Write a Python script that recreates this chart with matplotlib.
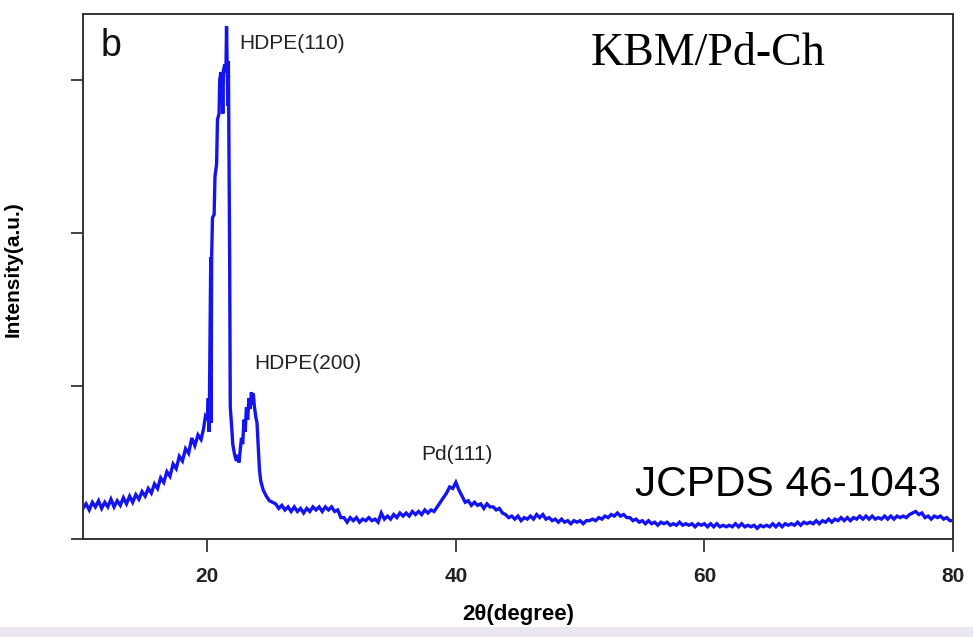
import numpy as np
import matplotlib
matplotlib.use("Agg")
import matplotlib.pyplot as plt
from matplotlib.patches import Rectangle

# XRD scan, low-angle part incl. the HDPE reflections (irregular steps)
tt_peak = [10.0, 10.25, 10.5, 10.75, 11.0, 11.25, 11.5, 11.75, 12.0, 12.25,
           12.5, 12.75, 13.0, 13.25, 13.5, 13.75, 14.0, 14.25, 14.5, 14.75,
           15.0, 15.25, 15.5, 15.75, 16.0, 16.25, 16.5, 16.75, 17.0, 17.25,
           17.5, 17.75, 18.0, 18.25, 18.5, 18.75, 19.0, 19.25, 19.5, 19.7,
           19.85, 20.0, 20.08, 20.15, 20.22, 20.28, 20.31, 20.35, 20.42, 20.55,
           20.62, 20.75, 20.82, 20.95, 21.0, 21.1, 21.2, 21.25, 21.3, 21.4,
           21.5, 21.55, 21.6, 21.65, 21.7, 21.8, 21.85, 21.95, 22.05, 22.2,
           22.35, 22.45, 22.55, 22.65, 22.75, 22.85, 22.95, 23.05, 23.15, 23.25,
           23.35, 23.45, 23.55, 23.65, 23.7, 23.8, 23.9, 24.0, 24.1, 24.2,
           24.3, 24.5, 24.75, 25.0, 25.25]
int_peak = [0.20, 0.23, 0.19, 0.24, 0.21, 0.25, 0.20, 0.24, 0.21, 0.26,
            0.21, 0.25, 0.22, 0.27, 0.23, 0.28, 0.24, 0.29, 0.26, 0.31,
            0.28, 0.33, 0.30, 0.36, 0.33, 0.40, 0.37, 0.44, 0.41, 0.49,
            0.46, 0.54, 0.51, 0.59, 0.56, 0.66, 0.61, 0.68, 0.65, 0.72,
            0.80, 0.78, 0.92, 0.70, 1.30, 1.84, 0.76, 1.84, 2.10, 2.12,
            2.37, 2.45, 2.74, 2.78, 3.00, 3.05, 3.02, 2.78, 3.06, 3.10,
            3.05, 3.35, 3.10, 2.83, 3.12, 1.84, 0.86, 0.75, 0.62, 0.55,
            0.51, 0.55, 0.50, 0.58, 0.66, 0.62, 0.78, 0.70, 0.86, 0.78,
            0.92, 0.85, 0.96, 0.88, 0.95, 0.86, 0.80, 0.76, 0.60, 0.45,
            0.38, 0.32, 0.28, 0.25, 0.24]

# rest of the scan, 0.25 deg step from 25.5 to 80
tt_tail = np.arange(25.5, 80.001, 0.25)
int_tail = [0.23, 0.20,
            0.22, 0.19, 0.21, 0.18,  0.21, 0.18, 0.20, 0.17,
            0.20, 0.18, 0.21, 0.19,  0.21, 0.18, 0.21, 0.19,
            0.21, 0.18, 0.19, 0.14,  0.14, 0.11, 0.14, 0.12,
            0.14, 0.11, 0.13, 0.12,  0.14, 0.12, 0.13, 0.11,
            0.17, 0.13, 0.15, 0.13,  0.16, 0.14, 0.17, 0.15,
            0.17, 0.15, 0.18, 0.16,  0.18, 0.16, 0.19, 0.17,
            0.19, 0.18, 0.21, 0.24,  0.27, 0.30, 0.34, 0.33,
            0.37, 0.32, 0.28, 0.24,  0.25, 0.22, 0.24, 0.22,
            0.23, 0.20, 0.23, 0.21,  0.21, 0.19, 0.20, 0.17,
            0.16, 0.14, 0.15, 0.13,  0.15, 0.12, 0.14, 0.13,
            0.15, 0.13, 0.16, 0.14,  0.16, 0.13, 0.14, 0.12,
            0.13, 0.11, 0.13, 0.11,  0.12, 0.10, 0.12, 0.11,
            0.12, 0.10, 0.12, 0.12,  0.13, 0.12, 0.14, 0.13,
            0.15, 0.14, 0.16, 0.15,  0.17, 0.15, 0.16, 0.14,
            0.14, 0.12, 0.13, 0.11,  0.12, 0.10, 0.12, 0.10,
            0.11, 0.09, 0.11, 0.10,  0.11, 0.09, 0.10, 0.09,
            0.11, 0.09, 0.10, 0.09,  0.10, 0.08, 0.10, 0.09,
            0.10, 0.08, 0.10, 0.08,  0.10, 0.08, 0.09, 0.08,
            0.09, 0.08, 0.10, 0.08,  0.10, 0.08, 0.09, 0.08,
            0.09, 0.07, 0.09, 0.08,  0.09, 0.08, 0.10, 0.08,
            0.10, 0.08, 0.10, 0.09,  0.10, 0.09, 0.11, 0.09,
            0.11, 0.10, 0.11, 0.10,  0.12, 0.10, 0.12, 0.11,
            0.13, 0.11, 0.13, 0.12,  0.14, 0.12, 0.14, 0.12,
            0.14, 0.13, 0.15, 0.13,  0.15, 0.13, 0.15, 0.13,
            0.14, 0.13, 0.15, 0.13,  0.15, 0.13, 0.15, 0.14,
            0.15, 0.14, 0.16, 0.17,  0.18, 0.16, 0.17, 0.14,
            0.15, 0.13, 0.15, 0.14,  0.15, 0.13, 0.14, 0.12,
            0.12]

two_theta = np.concatenate([tt_peak, tt_tail])
intensity = np.concatenate([int_peak, int_tail])

xticks = [20, 40, 60, 80]
peak_labels = ["HDPE(110)", "HDPE(200)", "Pd(111)"]
peak_label_pos = [(22.6, 3.24), (23.8, 1.15), (37.2, 0.55)]

fig = plt.figure(figsize=(9.73, 6.37), dpi=100)
ax = fig.add_axes([0.0853, 0.1538, 0.8941, 0.8242])

ax.plot(two_theta, intensity, color="#1414f0", lw=2.4, solid_joinstyle="miter")

ax.set_xlim(10, 80)
ax.set_ylim(0, 3.43)
ax.set_xticks(xticks)
ax.set_yticks([0, 1, 2, 3])
ax.set_yticklabels([])
ax.tick_params(direction="out", length=9, width=1.2, colors="#222222")
for lab in ax.get_xticklabels():
    lab.set_fontfamily("Liberation Sans")
    lab.set_fontweight("bold")
    lab.set_fontsize(15)
ax.tick_params(axis="x", pad=11)
for s in ax.spines.values():
    s.set_linewidth(1.4)
    s.set_color("#333333")

ax.set_xlabel("2θ(degree)", fontfamily="Liberation Sans", fontweight="bold",
              fontsize=16, labelpad=13)
ax.set_ylabel("Intensity(a.u.)", fontfamily="Liberation Sans", fontweight="bold",
              fontsize=15)
ax.yaxis.set_label_coords(-0.069, 0.515)

for txt, (x, y) in zip(peak_labels, peak_label_pos):
    ax.text(x, y, txt, fontfamily="Liberation Sans", fontsize=15, color="#222222",
            va="center", ha="left")

ax.text(0.02, 0.94, "b", transform=ax.transAxes, fontfamily="Liberation Sans",
        fontsize=27, va="center", ha="left", color="#111111")
ax.text(0.583, 0.925, "KBM/Pd-Ch", transform=ax.transAxes,
        fontfamily="Liberation Serif", fontsize=33, va="center", ha="left")
ax.text(0.986, 0.103, "JCPDS 46-1043", transform=ax.transAxes,
        fontfamily="Liberation Sans", fontsize=30.5, va="center", ha="right")

# pale strip along the bottom edge
fig.patches.append(Rectangle((0, 0), 1, 0.016, transform=fig.transFigure,
                             color="#ebe6f0", zorder=0))

fig.savefig("out.png", dpi=100)
